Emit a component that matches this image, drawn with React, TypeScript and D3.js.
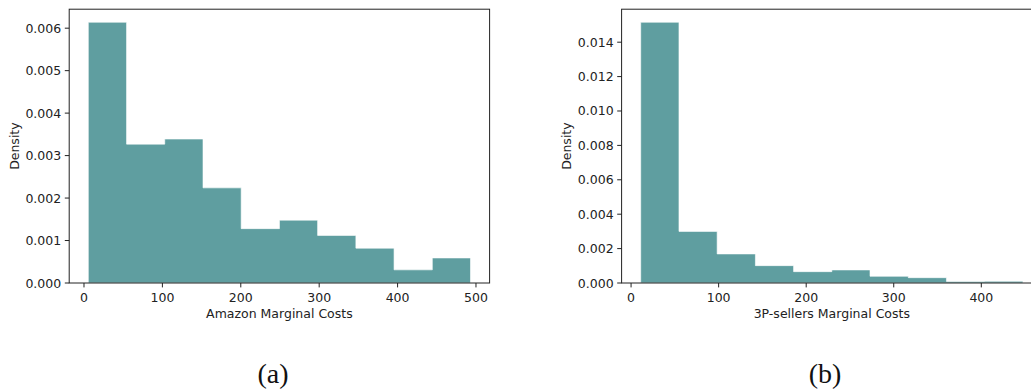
import React from 'react';
import * as d3 from 'd3';

// bin edges and densities
const amazonEdges = [5.5, 54.3, 103, 151.8, 200.5, 249.3, 298, 346.8, 395.5, 444.3, 493];
const amazonDensity = [0.00614, 0.00327, 0.00339, 0.00224, 0.00128, 0.00148, 0.00112, 0.00082, 0.00031, 0.00059];
const amazonXTicks = [0, 100, 200, 300, 400, 500];
const amazonYTicks = [0, 0.001, 0.002, 0.003, 0.004, 0.005, 0.006];

const sellerEdges = [11, 54.7, 98.3, 142, 185.6, 229.3, 272.9, 316.6, 360.2, 403.9, 447.5];
const sellerDensity = [0.01516, 0.003, 0.00169, 0.00101, 0.00066, 0.00076, 0.00039, 0.00031, 0.00009, 0.0001];
const sellerXTicks = [0, 100, 200, 300, 400];
const sellerYTicks = [0, 0.002, 0.004, 0.006, 0.008, 0.01, 0.012, 0.014];

const W = 1031;
const H = 389;
const FONT = 'DejaVu Sans, sans-serif';
const BAR = '#5f9ea0';
const INK = '#222';

type PanelProps = {
  left: number;
  edges: number[];
  density: number[];
  xTicks: number[];
  yTicks: number[];
  xLabel: string;
  caption: string;
  captionX: number;
};

const Panel = ({ left, edges, density, xTicks, yTicks, xLabel, caption, captionX }: PanelProps) => {
  const top = 9.2;
  const bottom = 283;
  const width = 420.4;

  // matplotlib-like 5% margin on x, 5% headroom on y
  const lo = edges[0];
  const hi = edges[edges.length - 1];
  const pad = (hi - lo) * 0.05;
  const x = d3.scaleLinear().domain([lo - pad, hi + pad]).range([left, left + width]);
  const y = d3.scaleLinear().domain([0, (d3.max(density) as number) * 1.05]).range([bottom, top]);
  const fmt = d3.format('.3f');

  // stepfilled histogram: one outline through all bin tops
  const pts: [number, number][] = [[edges[0], 0]];
  density.forEach((d, i) => {
    pts.push([edges[i], d]);
    pts.push([edges[i + 1], d]);
  });
  pts.push([hi, 0]);
  const step = d3.line<[number, number]>().x((p) => x(p[0])).y((p) => y(p[1]));
  const shape = step(pts) + 'Z';

  return (
    <g>
      <path d={shape} fill={BAR} stroke="#ffffff" strokeOpacity={0.6} strokeWidth={1} strokeLinejoin="miter" />
      <rect x={left} y={top} width={width} height={bottom - top} fill="none" stroke={INK} strokeWidth={1} />

      {xTicks.map((t) => (
        <g key={t} transform={`translate(${x(t)},${bottom})`}>
          <line y2={4.4} stroke={INK} strokeWidth={1} />
          <text y={18.7} textAnchor="middle" fontSize={12.5} fontFamily={FONT} fill={INK}>
            {t}
          </text>
        </g>
      ))}
      {yTicks.map((t) => (
        <g key={t} transform={`translate(${left},${y(t)})`}>
          <line x2={-4.4} stroke={INK} strokeWidth={1} />
          <text x={-8} dy="0.36em" textAnchor="end" fontSize={12.5} fontFamily={FONT} fill={INK}>
            {fmt(t)}
          </text>
        </g>
      ))}

      <text x={left + width / 2} y={317.5} textAnchor="middle" fontSize={12.5} fontFamily={FONT} fill={INK}>
        {xLabel}
      </text>
      <text
        transform={`translate(${left - 50.7},${(top + bottom) / 2}) rotate(-90)`}
        textAnchor="middle"
        fontSize={12.5}
        fontFamily={FONT}
        fill={INK}
      >
        Density
      </text>
      <text x={captionX} y={383} textAnchor="middle" fontSize={28} fontFamily="Liberation Serif, serif" fill="#111">
        {caption}
      </text>
    </g>
  );
};

export default function App() {
  return (
    <div style={{ position: 'absolute', left: 0, top: 0, width: W, height: H, background: '#fff' }}>
      <svg width={W} height={H} viewBox={`0 0 ${W} ${H}`}>
        <rect width={W} height={H} fill="#fff" />
        <Panel
          left={69.2}
          edges={amazonEdges}
          density={amazonDensity}
          xTicks={amazonXTicks}
          yTicks={amazonYTicks}
          xLabel="Amazon Marginal Costs"
          caption="(a)"
          captionX={273}
        />
        <Panel
          left={621.6}
          edges={sellerEdges}
          density={sellerDensity}
          xTicks={sellerXTicks}
          yTicks={sellerYTicks}
          xLabel="3P-sellers Marginal Costs"
          caption="(b)"
          captionX={825}
        />
      </svg>
    </div>
  );
}
